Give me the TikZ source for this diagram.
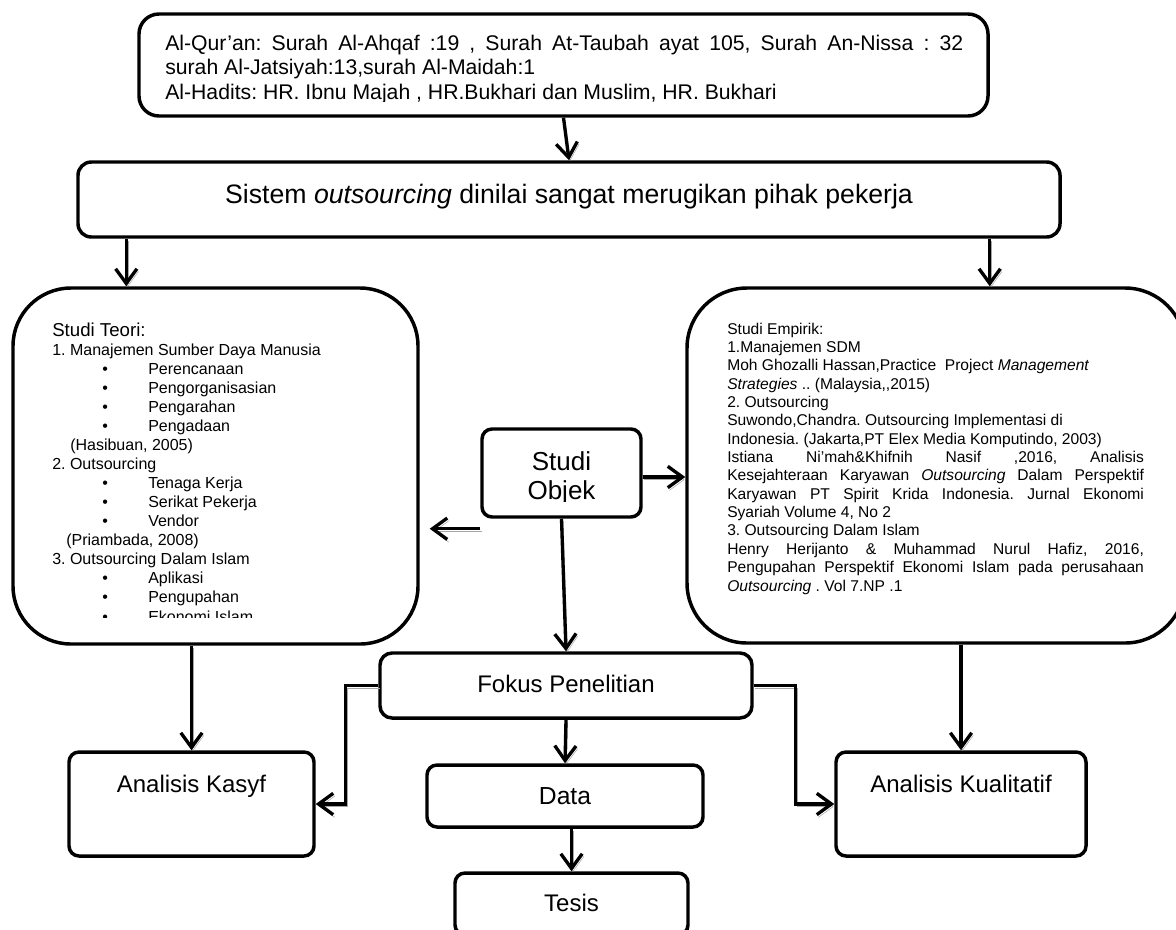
\documentclass[tikz,border=0pt]{standalone}
\usepackage{fontspec}
\setmainfont{Liberation Sans}
\usetikzlibrary{arrows.meta,positioning}
\frenchspacing
\tikzstyle{box} = [draw,line width=2.6pt,rectangle,rounded corners=7.5pt,inner sep=0,fill=white]
\tikzstyle{bigbox} = [box,rounded corners=43.5pt]
\tikzstyle{txt} = [inner sep=0,anchor=base]
\tikzstyle{arr} = [line width=2.5pt,-{Straight Barb[length=11pt,width=16pt]},
  preaction={draw,gray!70,transform canvas={shift={(1.2pt,-2pt)}}}]
\newcommand{\tblock}[2]{\vtop{\hsize=#1\parindent=0pt\raggedright #2\par}}
\newcommand{\itm}[1]{\hspace*{37.5pt}\makebox[34.5pt][l]{\textbullet}#1}

\begin{document}
\begin{tikzpicture}[x=0.75pt,y=-0.75pt]
  \useasboundingbox (0,0) rectangle (1176,929);
  % boxes
  \node[box,rounded corners=15pt,minimum width=636.75pt,minimum height=76.5pt] (quran) at (563.5,65) {};
  \node[box,rounded corners=10pt,minimum width=736.5pt,minimum height=56.25pt] (sistem) at (569,199.5) {};
  \node[bigbox,minimum width=303.75pt,minimum height=267pt] (teori) at (215.5,466) {};
  \node[bigbox,rounded corners=45pt,minimum width=373.5pt,minimum height=266.25pt] (empirik) at (936,465.5) {};
  \node[box,minimum width=119.25pt,minimum height=66pt] (objek) at (561.5,473) {};
  \node[box,rounded corners=9pt,minimum width=279pt,minimum height=48.75pt] (fokus) at (566,685.5) {};
  \node[box,minimum width=183.75pt,minimum height=78pt] (kasyf) at (191.5,804) {};
  \node[box,minimum width=187.5pt,minimum height=78pt] (kualitatif) at (961,804) {};
  \node[box,minimum width=207pt,minimum height=46.5pt] (data) at (565,796) {};
  \node[box,minimum width=174.75pt,minimum height=46.5pt] (tesis) at (571.5,904) {};

  % texts
  \begin{scope}
    \clip (140,14) rectangle (988,101);
    \node[txt,anchor=base west,font=\fontsize{15.9}{18.4}\selectfont] (quranT) at (165,50) {\tblock{598.5pt}{%
      \makebox[\hsize][s]{Al-Qur'an: Surah Al-Ahqaf :19 , Surah At-Taubah ayat 105, Surah An-Nissa : 32}\\
      surah Al-Jatsiyah:13,surah Al-Maidah:1\\
      Al-Hadits: HR. Ibnu Majah , HR.Bukhari dan Muslim, HR. Bukhari}};
  \end{scope}
  \node[txt,font=\fontsize{20}{24}\selectfont] (sistemT) at (569,203) {Sistem \textit{outsourcing} dinilai sangat merugikan pihak pekerja};
  \begin{scope}
    \clip (20,300) rectangle (410,617);
    \node[txt,anchor=base west,font=\fontsize{12}{14.3}\selectfont] (teoriT) at (52,336) {\tblock{280pt}{%
      {\fontsize{14}{14.3}\selectfont Studi Teori:}\\
      1. Manajemen Sumber Daya Manusia\\
      \itm{Perencanaan}\\
      \itm{Pengorganisasian}\\
      \itm{Pengarahan}\\
      \itm{Pengadaan}\\
      \hspace*{13.5pt}(Hasibuan, 2005)\\
      2. Outsourcing\\
      \itm{Tenaga Kerja}\\
      \itm{Serikat Pekerja}\\
      \itm{Vendor}\\
      \hspace*{10.5pt}(Priambada, 2008)\\
      3. Outsourcing Dalam Islam\\
      \itm{Aplikasi}\\
      \itm{Pengupahan}\\
      \itm{Ekonomi Islam}}};
  \end{scope}
  \node[txt,anchor=base west,font=\fontsize{11.7}{13.77}\selectfont] (empirikT) at (727,334) {\tblock{312.5pt}{%
    Studi Empirik:\\
    1.Manajemen SDM\\
    Moh Ghozalli Hassan,Practice\ \ Project \textit{Management}\\
    \textit{Strategies} .. (Malaysia,{},2015)\\
    2. Outsourcing\\
    Suwondo,Chandra. Outsourcing Implementasi di\\
    Indonesia. (Jakarta,PT Elex Media Komputindo, 2003)\\
    \makebox[\hsize][s]{Istiana Ni'mah\&Khifnih Nasif ,2016, Analisis}\\
    \makebox[\hsize][s]{Kesejahteraan Karyawan \textit{Outsourcing} Dalam Perspektif}\\
    \makebox[\hsize][s]{Karyawan PT Spirit Krida Indonesia. Jurnal Ekonomi}\\
    Syariah Volume 4, No 2\\
    3. Outsourcing Dalam Islam\\
    \makebox[\hsize][s]{Henry Herijanto \& Muhammad Nurul Hafiz, 2016,}\\
    \makebox[\hsize][s]{Pengupahan Perspektif Ekonomi Islam pada perusahaan}\\
    \textit{Outsourcing} . Vol 7.NP .1}};
  \begin{scope}
    \clip (482,429) rectangle (641,501);
    \node[txt,font=\fontsize{19.5}{21.75}\selectfont] (objekT) at (561.5,470) {\vtop{\hsize=110pt\centering Studi\\Objek\par}};
  \end{scope}
  \node[txt,font=\fontsize{18}{21.6}\selectfont] (fokusT) at (566,692) {Fokus Penelitian};
  \node[txt,font=\fontsize{18}{21.6}\selectfont] (kasyfT) at (191.5,792) {Analisis Kasyf};
  \node[txt,font=\fontsize{18}{21.6}\selectfont] (kualitatifT) at (961,792) {Analisis Kualitatif};
  \node[txt,font=\fontsize{18.5}{22}\selectfont] (dataT) at (565,804) {Data};
  \node[txt,font=\fontsize{18}{21.6}\selectfont] (tesisT) at (571.5,911) {Tesis};

  % connectors
  \coordinate (objL) at ([yshift=-7.5pt]objek.south west);
  \draw[arr] (quran.south) -- (sistem.north);
  \draw[arr] ([xshift=37.5pt]sistem.south west) -- ([xshift=37.5pt]sistem.south west |- teori.north);
  \draw[arr] ([xshift=-54pt]sistem.south east) -- ([xshift=-54pt]sistem.south east |- empirik.north);
  \draw[arr] ([yshift=-3pt]objek.east) -- ([yshift=-3pt]objek.east -| empirik.west);
  \draw[arr,shorten >=7.5pt] (objL) -- (objL -| teori.east);
  \draw[arr] (objek.south) -- (fokus.north);
  \draw[arr] (teori.south -| kasyf.north) -- (kasyf.north);
  \draw[arr] (empirik.south -| kualitatif.north) -- (kualitatif.north);
  \draw[arr] (fokus.west) -- ++(-33,0) |- (kasyf.east);
  \draw[arr] (fokus.east) -- ++(42,0) |- (kualitatif.west);
  \draw[arr] (fokus.south) -- (data.north);
  \draw[arr] (tesis.north |- data.south) -- (tesis.north);
\end{tikzpicture}
\end{document}
